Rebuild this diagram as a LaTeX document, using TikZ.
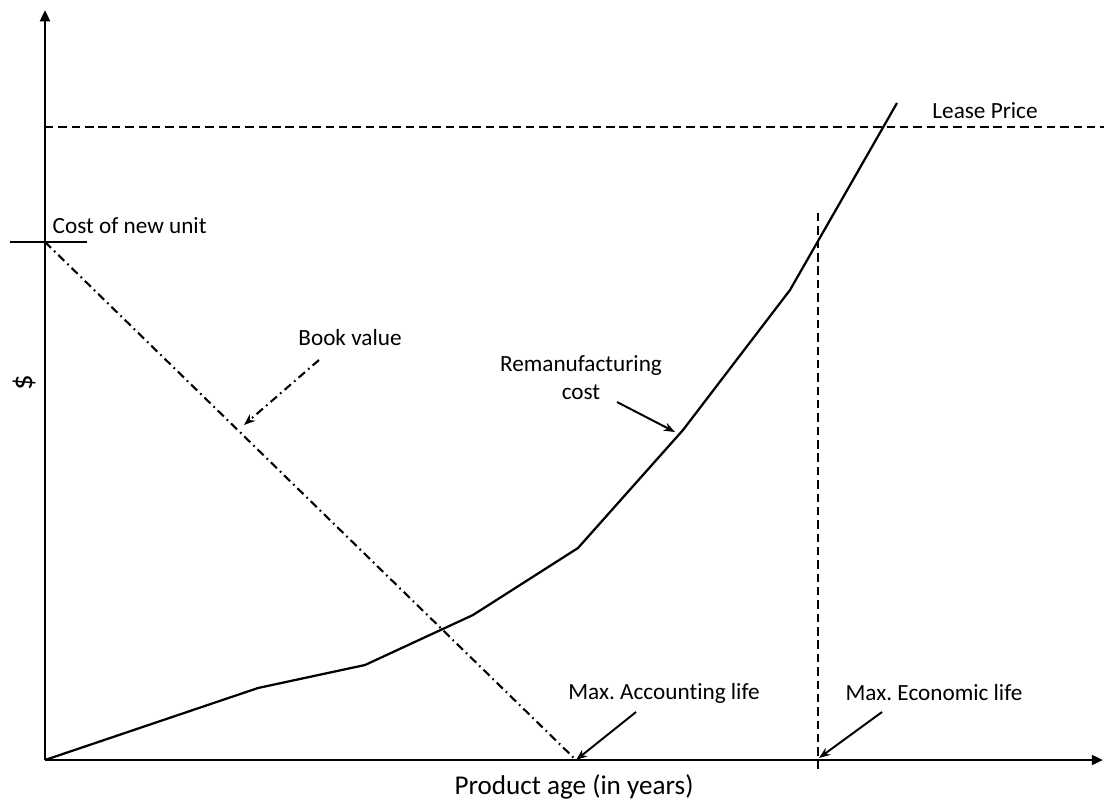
\documentclass[tikz,border=0pt]{standalone}
\usepackage{fontspec}
\setmainfont{Carlito}[Ligatures=NoCommon]
\frenchspacing
\usetikzlibrary{arrows.meta, positioning, calc}

\begin{document}
\begin{tikzpicture}[
  x=0.025cm, y=-0.025cm,
  axis/.style={line width=1.8pt, -{Triangle[length=8pt,width=7pt]}},
  curve/.style={line width=1.6pt},
  dashdot/.style={line width=1.5pt, dash pattern=on 6pt off 3pt on 1.2pt off 3pt},
  lease/.style={line width=1.4pt, dash pattern=on 6pt off 3.5pt},
  pointer/.style={line width=1.4pt, -{Stealth[length=8pt,width=6pt]}},
  lbl/.style={font=\fontsize{16.5}{20}\selectfont, inner sep=1pt}
]
  \useasboundingbox (0,0) rectangle (1104,803);

  % Axes
  \coordinate (O) at (45,760);
  \coordinate (ytop) at (45,10);
  \coordinate (xend) at (1103,760);
  \draw[axis] (O) -- (ytop);
  \draw[axis] (O) -- (xend);
  \node[lbl, rotate=90, font=\fontsize{22}{24}\selectfont] (dollar) at (24,383) {\$};
  \node[lbl, font=\fontsize{19.3}{22}\selectfont] (xlabel) at (574,787) {Product age (in years)};

  % Lease price
  \coordinate (leaseL) at (45,127);
  \coordinate (leaseR) at (1104,127);
  \draw[lease] (leaseL) -- (leaseR);
  \node[lbl] (lease) at (985,111) {Lease Price};

  % Cost of new unit
  \coordinate (newunit) at (45,242);
  \coordinate (tickL) at (10,242);
  \coordinate (tickR) at (87,242);
  \draw[curve] (tickL) -- (tickR);
  \node[lbl, anchor=west] (costnew) at (51,226) {Cost of new unit};

  % Book value
  \coordinate (acclife) at (576,760);
  \draw[dashdot] (newunit) -- (acclife);
  \node[lbl] (book) at (350,338) {Book value};
  \coordinate (bookA) at (319,360);
  \coordinate (bookB) at (244,425);
  \draw[dashdot, -{Stealth[length=8pt,width=6pt]}] (bookA) -- (bookB);

  % Remanufacturing cost
  \coordinate (r1) at (258,688);
  \coordinate (r2) at (365,665);
  \coordinate (r3) at (473,615);
  \coordinate (r4) at (578,548);
  \coordinate (r5) at (683,430);
  \coordinate (r6) at (790,290);
  \coordinate (r7) at (897,103);
  \draw[curve] (O) -- (r1) -- (r2) -- (r3) -- (r4) -- (r5) -- (r6) -- (r7);
  \node[lbl, align=center] (reman) at (581,378) {Remanufacturing\\cost};
  \coordinate (remanA) at (617,402);
  \coordinate (remanB) at (675,432);
  \draw[pointer] (remanA) -- (remanB);

  % Max. economic life
  \coordinate (ecoT) at (818,213);
  \coordinate (ecoB) at (818,770);
  \draw[lease] (ecoT) -- (ecoB);

  % Life labels
  \node[lbl] (accl) at (664,693) {Max. Accounting life};
  \coordinate (acclA) at (636,712);
  \draw[pointer] (acclA) -- (acclife);
  \node[lbl] (ecol) at (934,693) {Max. Economic life};
  \coordinate (ecolA) at (882,712);
  \coordinate (ecolB) at (819,758);
  \draw[pointer] (ecolA) -- (ecolB);
\end{tikzpicture}
\end{document}
